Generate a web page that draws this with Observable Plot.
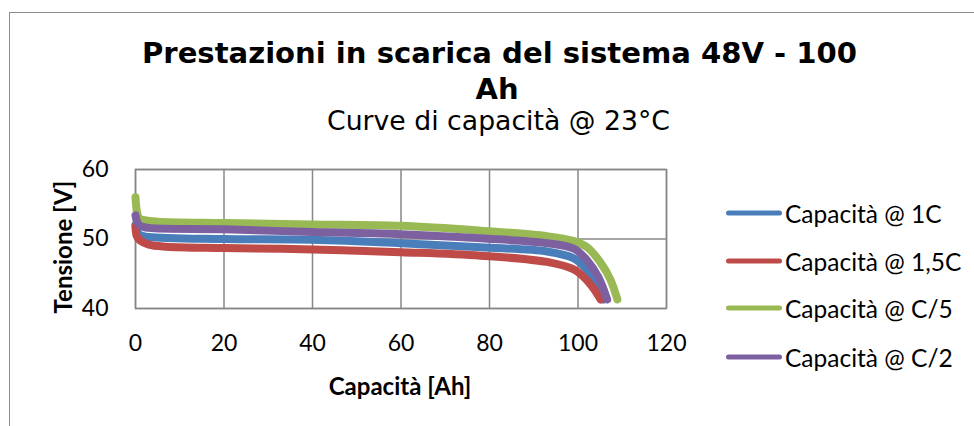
<!DOCTYPE html>
<html>
<head>
<meta charset="utf-8">
<script src="https://cdn.jsdelivr.net/npm/d3@7"></script>
<script src="https://cdn.jsdelivr.net/npm/@observablehq/plot@0.6"></script>
<style>
  html, body { margin: 0; padding: 0; background: #fff; }
  #wrap { position: relative; width: 974px; height: 426px; overflow: hidden; background: #fff; }
  #border { position: absolute; left: 9px; top: 12px; width: 1200px; height: 800px; border: 1px solid #8c8c8c; box-sizing: border-box; }
  #titles { position: absolute; left: 0; top: 0; }
  #chart { position: absolute; left: 0; top: 150px; }
  .axtitle { position: absolute; font-family: Lato, sans-serif; font-weight: bold; font-size: 24px; color: #000; white-space: nowrap; }
  #legend { position: absolute; left: 726px; top: 0; font-family: Lato, sans-serif; font-size: 24.5px; color: #000; }
  .lg { position: absolute; left: 0; white-space: nowrap; display: flex; align-items: center; }
  .lg svg { display: block; }
  .lg span { margin-left: 3px; }
</style>
</head>
<body>
<div id="wrap">
  <div id="border"></div>
  <svg id="titles" width="974" height="150"></svg>
  <div id="chart"></div>
  <div class="axtitle" id="ylab"></div>
  <div class="axtitle" id="xlab"></div>
  <div id="legend"></div>
</div>
<script>
// ---- Data ----
const titleLines = ["Prestazioni in scarica del sistema 48V - 100", "Ah"];
const subtitle = "Curve di capacità @ 23°C";
const xLabel = "Capacità [Ah]";
const yLabel = "Tensione [V]";
const xTicks = [0, 20, 40, 60, 80, 100, 120];
const yTicks = [40, 50, 60];

const seriesNames = ["Capacità @ 1C", "Capacità @ 1,5C", "Capacità @ C/5", "Capacità @ C/2"];
const seriesColors = ["#4A7EBB", "#BE4B48", "#98B954", "#7D60A0"];

// capacity (Ah) and voltage (V) per series
const cap1C   = [0, 0.3, 1, 3, 20, 40, 60, 78, 93, 99.1, 102.1, 104.0, 105.8];
const volt1C  = [52.0, 51.1, 50.6, 50.3, 50.0, 49.9, 49.4, 48.8, 48.2, 47.2, 45.5, 43.6, 41.3];

const cap15C  = [0, 0.3, 1, 3, 7, 20, 40, 60, 78, 93, 99.1, 102.1, 103.6, 105.1];
const volt15C = [51.8, 50.4, 49.8, 49.2, 48.9, 48.7, 48.5, 48.1, 47.6, 46.7, 45.6, 44.0, 42.8, 41.3];

const capC5   = [0, 0.3, 0.8, 2, 5, 20, 40, 60, 78, 93, 99.1, 102.1, 105.1, 107.3, 108.9];
const voltC5  = [56.0, 54.0, 53.0, 52.7, 52.5, 52.3, 52.1, 51.9, 51.2, 50.4, 49.7, 48.8, 46.6, 44.2, 41.3];

const capC2   = [0, 0.3, 1, 3, 20, 40, 60, 78, 93, 99.1, 102.1, 104.6, 106.6];
const voltC2  = [53.4, 52.6, 51.9, 51.6, 51.4, 51.0, 50.7, 50.1, 49.4, 48.6, 46.9, 44.5, 41.3];

const seriesCaps = [cap1C, cap15C, capC5, capC2];
const seriesVolts = [volt1C, volt15C, voltC5, voltC2];

// ---- Build table ----
const rows = [];
seriesNames.forEach((name, i) => {
  seriesCaps[i].forEach((c, j) => rows.push({series: name, cap: c, volt: seriesVolts[i][j]}));
});

// ---- Titles ----
const ns = "http://www.w3.org/2000/svg";
const tsvg = document.getElementById("titles");
function addText(str, x, y, size, weight, len) {
  const t = document.createElementNS(ns, "text");
  t.setAttribute("x", x); t.setAttribute("y", y);
  t.setAttribute("text-anchor", "middle");
  t.setAttribute("font-family", "DejaVu Sans, sans-serif");
  t.setAttribute("font-size", size);
  t.setAttribute("font-weight", weight);
  if (len) { t.setAttribute("textLength", len); t.setAttribute("lengthAdjust", "spacingAndGlyphs"); }
  t.textContent = str;
  tsvg.appendChild(t);
}
addText(titleLines[0], 499.5, 63, 29, "bold", 715);
addText(titleLines[1], 497, 99, 29, "bold", null);
addText(subtitle, 498.5, 130, 26, "normal", 343);

// ---- Chart ----
const chart = Plot.plot({
  width: 974,
  height: 276,
  marginLeft: 135,
  marginRight: 308,
  marginTop: 19,
  marginBottom: 118,
  style: {fontFamily: "Lato, sans-serif", fontSize: "23px", color: "#000", background: "transparent", overflow: "visible"},
  x: {domain: [0, 120], ticks: xTicks, label: null},
  y: {domain: [40, 60], ticks: yTicks, label: null},
  color: {domain: seriesNames, range: seriesColors},
  marks: [
    Plot.gridX(xTicks, {stroke: "#878787", strokeOpacity: 1, strokeWidth: 1.5}),
    Plot.gridY(yTicks, {stroke: "#878787", strokeOpacity: 1, strokeWidth: 1.5}),
    Plot.frame({stroke: "#878787", strokeWidth: 1.5}),
    Plot.axisX(xTicks, {tickSize: 0, tickPadding: 26, label: null, fontSize: 23}),
    Plot.axisY(yTicks, {tickSize: 0, tickPadding: 27, label: null, fontSize: 23}),
    Plot.line(rows, {x: "cap", y: "volt", z: "series", stroke: "series", strokeWidth: 8,
      strokeLinecap: "round", strokeLinejoin: "round", curve: "catmull-rom"})
  ]
});
document.getElementById("chart").appendChild(chart);

// ---- Axis titles ----
const yl = document.getElementById("ylab");
yl.textContent = yLabel;
yl.style.left = "62px"; yl.style.top = "247px";
yl.style.transform = "translate(-50%,-50%) rotate(-90deg)";
const xl = document.getElementById("xlab");
xl.textContent = xLabel;
xl.style.left = "400px"; xl.style.top = "385px";
xl.style.transform = "translate(-50%,-50%)";

// ---- Legend ----
const legendY = [213, 261, 308, 357];
const leg = document.getElementById("legend");
seriesNames.forEach((name, i) => {
  const d = document.createElement("div");
  d.className = "lg";
  d.style.top = (legendY[i] - 15) + "px";
  d.style.height = "30px";
  d.innerHTML = `<svg width="56" height="8"><line x1="2.5" y1="4" x2="53.5" y2="4" stroke="${seriesColors[i]}" stroke-width="5" stroke-linecap="round"/></svg><span>${name}</span>`;
  leg.appendChild(d);
});
</script>
</body>
</html>
